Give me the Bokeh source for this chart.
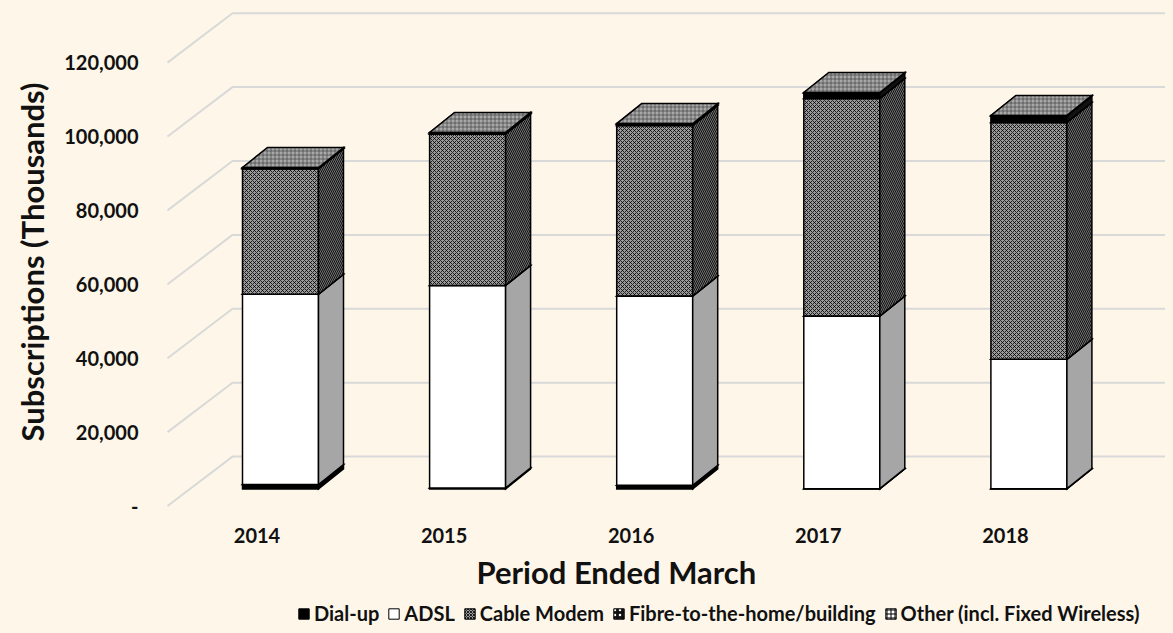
import numpy as np
from bokeh.plotting import figure
from bokeh.layouts import column
from bokeh.models import (FixedTicker, NumeralTickFormatter, Legend, LegendItem,
                          Range1d, Title)
from bokeh.embed import file_html
from bokeh.resources import INLINE

# ---------------- data (thousands of subscriptions) ----------------
years = ["2014", "2015", "2016", "2017", "2018"]
dial_up = [1200, 300, 1000, 100, 100]
adsl = [51500, 54800, 51200, 46700, 35000]
cable = [34000, 41000, 46200, 58900, 64100]
fibre = [200, 300, 400, 1500, 1800]
other = [100, 100, 100, 100, 100]
series_names = ["Dial-up", "ADSL", "Cable Modem", "Fibre-to-the-home/building",
                "Other (incl. Fixed Wireless)"]
y_ticks = [0, 20000, 40000, 60000, 80000, 100000, 120000]

# ---------------- geometry helpers (pixel sizes -> data units) ----------------
PX_X = 187.1          # px per category
PX_Y = 0.003695       # px per unit of value


def dxu(px):
    return px / PX_X


def dyu(px):
    return px / PX_Y


BG = "#FEF6E8"
FONT = "Lato"
x_start, x_end = dxu(160 - 256.5), dxu(1165 - 256.5)
y_start, y_end = -dyu(515 - 505.5), dyu(505.5 - 8)

p = figure(frame_width=1005, frame_height=507, output_backend="svg", toolbar_location=None,
           x_range=Range1d(x_start, x_end), y_range=Range1d(y_start, y_end),
           min_border_left=152, min_border_right=0, min_border_top=0,
           min_border_bottom=85, background_fill_color=BG, border_fill_color=BG,
           outline_line_color=None)
p.grid.visible = False

# ---------------- 3D gridlines on side wall + back wall ----------------
xw0 = dxu(167 - 256.5)
dxw, dyw = dxu(65), dyu(49.4)
gxs, gys = [], []
for t in y_ticks:
    gxs.append([xw0, xw0 + dxw, x_end + 1])
    gys.append([t, t + dyw, t + dyw])
p.multi_line(gxs, gys, line_color="#D9D9D9", line_width=2)

# ---------------- 3D stacked bars ----------------
bar_off, bar_w = dxu(-14.5), dxu(76)
ddx, ddy = dxu(25), dyu(20)
base = dyu(17)

cable_top = dict(fill_color="#A8A8A8", hatch_pattern="+", hatch_color="#333333",
                 hatch_scale=4, hatch_weight=1, hatch_alpha=0.6)
styles = [
    # front, side, top
    (dict(fill_color="#000000"), dict(fill_color="#000000"), dict(fill_color="#222222")),
    (dict(fill_color="#FFFFFF"), dict(fill_color="#A6A6A6"), dict(fill_color="#E6E6E6")),
    (dict(fill_color="#9A9A9A", hatch_pattern="x", hatch_color="#000000",
          hatch_scale=4, hatch_weight=1, hatch_alpha=0.8),
     dict(fill_color="#707070", hatch_pattern="\\", hatch_color="#111111",
          hatch_scale=4, hatch_weight=1),
     cable_top),
    (dict(fill_color="#000000"), dict(fill_color="#111111"), dict(fill_color="#333333")),
    (dict(fill_color="#FFFFFF", hatch_pattern="+", hatch_color="#000000",
          hatch_scale=5, hatch_weight=1),
     dict(fill_color="#8A8A8A"),
     cable_top),
]
legend_styles = [
    dict(fill_color="#000000"),
    dict(fill_color="#FFFFFF"),
    dict(fill_color="#9A9A9A", hatch_pattern="x", hatch_color="#000000",
         hatch_scale=3, hatch_weight=1, hatch_alpha=0.8),
    dict(fill_color="#111111", hatch_pattern=".", hatch_color="#FFFFFF",
         hatch_scale=5, hatch_weight=1.5),
    dict(fill_color="#FFFFFF", hatch_pattern="+", hatch_color="#000000",
         hatch_scale=4, hatch_weight=1),
]

# separate small figure that carries only the legend (below the chart)
pl = figure(frame_width=1157, frame_height=25, output_backend="svg", toolbar_location=None,
            x_axis_type=None, y_axis_type=None, min_border=0,
            x_range=Range1d(0, 1), y_range=Range1d(0, 1),
            background_fill_color=BG, border_fill_color=BG, outline_line_color=None)
pl.grid.visible = False

values = [dial_up, adsl, cable, fibre, other]
cum = np.zeros(len(years))
legend_items = []
for k, vals in enumerate(values):
    lo = cum.copy()
    hi = cum + np.array(vals, dtype=float)
    fx, fy, sx, sy, tx, ty = [], [], [], [], [], []
    for i in range(len(years)):
        x0 = i + bar_off
        x1 = x0 + bar_w
        a, b = base + lo[i], base + hi[i]
        fx.append([x0, x1, x1, x0]); fy.append([a, a, b, b])
        sx.append([x1, x1 + ddx, x1 + ddx, x1]); sy.append([a, a + ddy, b + ddy, b])
        tx.append([x0, x1, x1 + ddx, x0 + ddx]); ty.append([b, b, b + ddy, b + ddy])
    fs, ss, ts = styles[k]
    p.patches(fx, fy, line_color="#000000", line_width=1.5, line_join="miter", **fs)
    p.patches(sx, sy, line_color="#000000", line_width=1.5, line_join="miter", **ss)
    p.patches(tx, ty, line_color="#000000", line_width=1.5, line_join="miter", **ts)
    # legend swatch: one off-range shape, only used to draw the legend glyph
    proxy = pl.patches(xs=[[5, 6, 6, 5]], ys=[[5, 5, 6, 6]], line_color="#000000",
                       line_width=1, **legend_styles[k])
    legend_items.append(LegendItem(label=series_names[k], renderers=[proxy]))
    cum = hi

# ---------------- axes ----------------
p.yaxis.ticker = FixedTicker(ticks=y_ticks)
p.yaxis.formatter = NumeralTickFormatter(format="0,0")
p.yaxis.major_label_overrides = {0: "-"}
p.yaxis.axis_label = "Subscriptions (Thousands)"
p.xaxis.ticker = FixedTicker(ticks=list(range(len(years))))
p.xaxis.major_label_overrides = {i: y for i, y in enumerate(years)}
for ax in (p.xaxis, p.yaxis):
    ax.axis_line_color = None
    ax.major_tick_line_color = None
    ax.minor_tick_line_color = None
    ax.major_tick_out = 0
    ax.major_tick_in = 0
    ax.minor_tick_out = 0
    ax.minor_tick_in = 0
    ax.major_label_text_font = FONT
    ax.major_label_text_font_style = "bold"
    ax.major_label_text_font_size = "20px"
    ax.major_label_text_color = "#111111"
    ax.axis_label_text_font = FONT
    ax.axis_label_text_font_style = "bold"
    ax.axis_label_text_font_size = "31px"
    ax.axis_label_text_color = "#111111"
p.yaxis.major_label_standoff = 22
p.yaxis.axis_label_standoff = 10
p.xaxis.major_label_standoff = 12

x_title = Title(text="Period Ended March", align="left", offset=316,
                text_font=FONT, text_font_style="bold", text_font_size="31px",
                text_color="#111111", standoff=10)
p.add_layout(x_title, "below")

legend = Legend(items=legend_items, orientation="horizontal", location=(289, 0),
                label_text_font=FONT, label_text_font_style="bold",
                label_text_font_size="20px", label_text_color="#111111",
                glyph_width=13, glyph_height=13, label_standoff=4, spacing=8,
                padding=0, margin=0, label_height=18, background_fill_alpha=0,
                border_line_color=None)
pl.add_layout(legend)

layout = column(p, pl, spacing=0)
html = file_html(layout, INLINE)
html = html.replace("</head>", "<style>body{background:%s;margin:8px;}</style></head>" % BG, 1)
open("out.html", "w").write(html)
